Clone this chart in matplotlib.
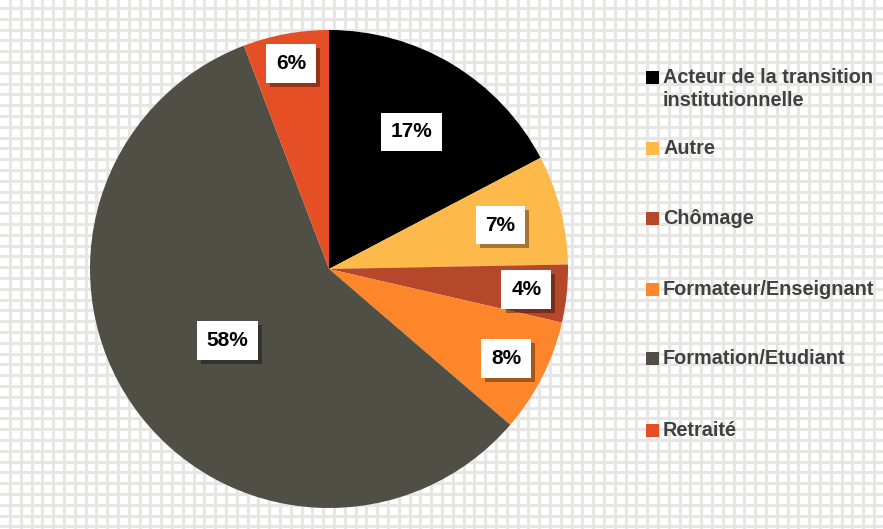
import matplotlib
matplotlib.use("Agg")
import matplotlib.pyplot as plt
import matplotlib.patheffects as pe
import numpy as np

categories = ["Acteur de la transition\ninstitutionnelle", "Autre", "Chômage",
              "Formateur/Enseignant", "Formation/Etudiant", "Retraité"]
percents = [17.3, 7.4, 3.9, 7.7, 57.9, 5.8]
colors = ["#000000", "#FDB94A", "#B5482A", "#FC8629", "#4F4F46", "#E54F25"]
label_radius = [0.67, 0.74, 0.83, 0.83, 0.52, 0.875]

plt.rcParams['font.family'] = ['Liberation Sans', 'DejaVu Sans']

W, H = 883, 529
fig = plt.figure(figsize=(W / 100, H / 100), dpi=100)
fig.patch.set_facecolor("white")

# background grid pattern
bg = fig.add_axes([0, 0, 1, 1])
bg.set_xlim(0, W)
bg.set_ylim(H, 0)
bg.axis("off")
for x in np.arange(10, W, 10.8):
    bg.axvline(x, color="#e6e6e4", lw=2.2, zorder=0)
for y in np.arange(8, H, 10.8):
    bg.axhline(y, color="#e6e6e4", lw=2.2, zorder=0)

# pie
cx, cy, r = 329, 269, 239
ax = fig.add_axes([(cx - r) / W, 1 - (cy + r) / H, 2 * r / W, 2 * r / H])
wedges, _ = ax.pie(percents, colors=colors, startangle=90, counterclock=False,
                   radius=1.0, wedgeprops=dict(linewidth=0))
ax.set_xlim(-1, 1)
ax.set_ylim(-1, 1)
ax.set_aspect("equal")

total = sum(percents)
for w, c, lr in zip(wedges, percents, label_radius):
    ang = np.deg2rad((w.theta1 + w.theta2) / 2)
    x, y = lr * np.cos(ang), lr * np.sin(ang)
    pct = f"{round(100 * c / total)}%"
    t = ax.text(x, y, pct, ha="center", va="center", fontsize=15,
                fontweight="bold", color="#000000",
                bbox=dict(boxstyle="square,pad=0.47", facecolor="white",
                          edgecolor="none"))
    t.get_bbox_patch().set_path_effects([
        pe.SimplePatchShadow(offset=(3, -3), shadow_rgbFace="#000000", alpha=0.35),
        pe.Normal()])

# legend (manual)
leg_y = [77, 148, 218, 289, 358, 430]
for lab, col, yy in zip(categories, colors, leg_y):
    bg.add_patch(plt.Rectangle((646, yy - 6.5), 13, 13, facecolor=col,
                               edgecolor="none", zorder=3))
    bg.text(663, yy - 9, lab, ha="left", va="top", fontsize=14.3,
            fontweight="bold", color="#404040", linespacing=1.25, zorder=3)

fig.savefig("out.png", dpi=100)
